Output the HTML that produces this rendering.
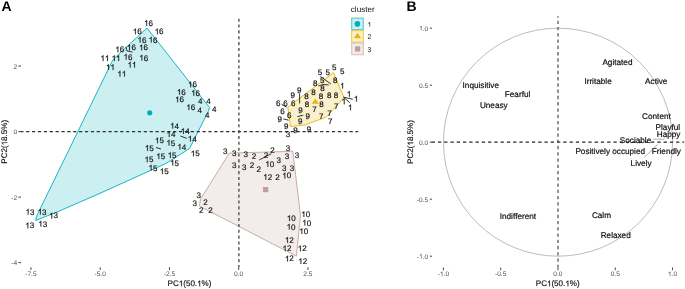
<!DOCTYPE html>
<html><head><meta charset="utf-8"><style>
html,body{margin:0;padding:0;background:#fff;overflow:hidden}
svg{display:block;will-change:transform;text-rendering:geometricPrecision;font-kerning:none;font-family:"Liberation Sans",sans-serif}
</style></head><body>
<svg width="685" height="289" viewBox="0 0 685 289">
<rect width="685" height="289" fill="#fff"/>
<polygon points="147,28 209.5,107.5 208.3,111.3 189.6,148.5 166.5,163.2 100,193.3 58,211.6 35.6,220.5 36.9,215.5 111.8,62 113.8,58.8" fill="#CCEFF1" stroke="#00AFBB" stroke-width="0.9" stroke-linejoin="round"/>
<polygon points="333.4,72.7 344,97.6 326.3,117.1 304.7,125 290.5,126.4 287.8,107.2" fill="#FAF1CC" stroke="#E7B800" stroke-width="0.9" stroke-linejoin="round"/>
<polygon points="229.3,153.1 292.8,151.3 300.5,215.5 296.4,256.1 199.4,206.1 200.5,199.2" fill="#F2ECEB" stroke="#BF9F9A" stroke-width="0.85" stroke-linejoin="round"/>
<line x1="21" y1="131.55" x2="358.2" y2="131.55" stroke="#303030" stroke-width="1.15" stroke-dasharray="3.2 2.68" stroke-dashoffset="0.74"/>
<line x1="238.9" y1="18.7" x2="238.9" y2="267.3" stroke="#404040" stroke-width="1.25" stroke-dasharray="3.1 2.765" stroke-dashoffset="0.1"/>
<line x1="30.95" y1="267.3" x2="30.95" y2="270.0" stroke="#333333" stroke-width="0.9"/>
<text x="30.95" y="276.20" font-size="6.6" text-anchor="middle" fill="#4D4D4D" >-7.5</text>
<line x1="100.20" y1="267.3" x2="100.20" y2="270.0" stroke="#333333" stroke-width="0.9"/>
<text x="100.20" y="276.20" font-size="6.6" text-anchor="middle" fill="#4D4D4D" >-5.0</text>
<line x1="169.45" y1="267.3" x2="169.45" y2="270.0" stroke="#333333" stroke-width="0.9"/>
<text x="169.45" y="276.20" font-size="6.6" text-anchor="middle" fill="#4D4D4D" >-2.5</text>
<line x1="238.70" y1="267.3" x2="238.70" y2="270.0" stroke="#333333" stroke-width="0.9"/>
<text x="238.70" y="276.20" font-size="6.6" text-anchor="middle" fill="#4D4D4D" >0.0</text>
<line x1="307.95" y1="267.3" x2="307.95" y2="270.0" stroke="#333333" stroke-width="0.9"/>
<text x="307.95" y="276.20" font-size="6.6" text-anchor="middle" fill="#4D4D4D" >2.5</text>
<line x1="18.3" y1="66.10" x2="21" y2="66.10" stroke="#333333" stroke-width="0.9"/>
<text x="17.10" y="68.50" font-size="6.6" text-anchor="end" fill="#4D4D4D" >2</text>
<line x1="18.3" y1="131.60" x2="21" y2="131.60" stroke="#333333" stroke-width="0.9"/>
<text x="17.10" y="134.00" font-size="6.6" text-anchor="end" fill="#4D4D4D" >0</text>
<line x1="18.3" y1="197.10" x2="21" y2="197.10" stroke="#333333" stroke-width="0.9"/>
<text x="17.10" y="199.50" font-size="6.6" text-anchor="end" fill="#4D4D4D" >-2</text>
<line x1="18.3" y1="262.60" x2="21" y2="262.60" stroke="#333333" stroke-width="0.9"/>
<text x="17.10" y="265.00" font-size="6.6" text-anchor="end" fill="#4D4D4D" >-4</text>
<text x="189.50" y="286.30" font-size="8.05" text-anchor="middle" fill="#111" stroke="#111" stroke-width="0.15">PC (50. %)</text><path d="M763 0H583V1147Q518 1085 412.5 1023Q307 961 223 930V1104Q374 1175 487 1276Q600 1377 647 1472H763Z" transform="translate(178.759,286.30) scale(0.003931,-0.003931)" fill="#111" stroke="#111" stroke-width="0.15" vector-effect="non-scaling-stroke"/><path d="M763 0H583V1147Q518 1085 412.5 1023Q307 961 223 930V1104Q374 1175 487 1276Q600 1377 647 1472H763Z" transform="translate(197.108,286.30) scale(0.003931,-0.003931)" fill="#111" stroke="#111" stroke-width="0.15" vector-effect="non-scaling-stroke"/>
<g transform="translate(7.3,141.8) rotate(-90)"><text x="0.00" y="0.00" font-size="8.05" text-anchor="middle" fill="#111" stroke="#111" stroke-width="0.15">PC2( 8.5%)</text><path d="M763 0H583V1147Q518 1085 412.5 1023Q307 961 223 930V1104Q374 1175 487 1276Q600 1377 647 1472H763Z" transform="translate(-3.583,0.00) scale(0.003931,-0.003931)" fill="#111" stroke="#111" stroke-width="0.15" vector-effect="non-scaling-stroke"/></g>
<polyline points="125.9,46.8 126.9,50.8 132.5,52.1" fill="none" stroke="#111" stroke-width="0.85"/>
<polyline points="180.4,136 186.7,138.4" fill="none" stroke="#111" stroke-width="0.85"/>
<polyline points="156,147.5 161,149" fill="none" stroke="#111" stroke-width="0.85"/>
<polyline points="320.5,76.5 330.9,84" fill="none" stroke="#111" stroke-width="0.85"/>
<polyline points="318.4,86 323,84.5 328.8,85" fill="none" stroke="#111" stroke-width="0.85"/>
<polyline points="299.6,93.5 299.6,103.4" fill="none" stroke="#111" stroke-width="0.85"/>
<polyline points="297.3,116.6 303.2,115.2" fill="none" stroke="#111" stroke-width="0.85"/>
<polyline points="283.3,118.9 288.6,120.2" fill="none" stroke="#111" stroke-width="0.85"/>
<polyline points="281.6,104.4 286.8,107.2" fill="none" stroke="#111" stroke-width="0.85"/>
<polyline points="343.5,97.2 352.8,99.2" fill="none" stroke="#111" stroke-width="0.85"/>
<polyline points="343.5,97.2 349.8,102.7" fill="none" stroke="#111" stroke-width="0.85"/>
<polyline points="259.3,159.9 271.4,153.7" fill="none" stroke="#111" stroke-width="0.85"/>
<text x="148.54" y="25.71" font-size="8.0" text-anchor="middle" fill="#111" stroke="#111" stroke-width="0.18"> 6</text><path d="M763 0H583V1147Q518 1085 412.5 1023Q307 961 223 930V1104Q374 1175 487 1276Q600 1377 647 1472H763Z" transform="translate(144.091,25.71) scale(0.003906,-0.003906)" fill="#111" stroke="#111" stroke-width="0.18" vector-effect="non-scaling-stroke"/>
<text x="137.24" y="34.31" font-size="8.0" text-anchor="middle" fill="#111" stroke="#111" stroke-width="0.18"> 6</text><path d="M763 0H583V1147Q518 1085 412.5 1023Q307 961 223 930V1104Q374 1175 487 1276Q600 1377 647 1472H763Z" transform="translate(132.791,34.31) scale(0.003906,-0.003906)" fill="#111" stroke="#111" stroke-width="0.18" vector-effect="non-scaling-stroke"/>
<text x="159.14" y="34.31" font-size="8.0" text-anchor="middle" fill="#111" stroke="#111" stroke-width="0.18"> 6</text><path d="M763 0H583V1147Q518 1085 412.5 1023Q307 961 223 930V1104Q374 1175 487 1276Q600 1377 647 1472H763Z" transform="translate(154.691,34.31) scale(0.003906,-0.003906)" fill="#111" stroke="#111" stroke-width="0.18" vector-effect="non-scaling-stroke"/>
<text x="141.94" y="42.61" font-size="8.0" text-anchor="middle" fill="#111" stroke="#111" stroke-width="0.18"> 6</text><path d="M763 0H583V1147Q518 1085 412.5 1023Q307 961 223 930V1104Q374 1175 487 1276Q600 1377 647 1472H763Z" transform="translate(137.491,42.61) scale(0.003906,-0.003906)" fill="#111" stroke="#111" stroke-width="0.18" vector-effect="non-scaling-stroke"/>
<text x="153.04" y="42.61" font-size="8.0" text-anchor="middle" fill="#111" stroke="#111" stroke-width="0.18"> 6</text><path d="M763 0H583V1147Q518 1085 412.5 1023Q307 961 223 930V1104Q374 1175 487 1276Q600 1377 647 1472H763Z" transform="translate(148.591,42.61) scale(0.003906,-0.003906)" fill="#111" stroke="#111" stroke-width="0.18" vector-effect="non-scaling-stroke"/>
<text x="119.74" y="52.21" font-size="8.0" text-anchor="middle" fill="#111" stroke="#111" stroke-width="0.18"> 6</text><path d="M763 0H583V1147Q518 1085 412.5 1023Q307 961 223 930V1104Q374 1175 487 1276Q600 1377 647 1472H763Z" transform="translate(115.291,52.21) scale(0.003906,-0.003906)" fill="#111" stroke="#111" stroke-width="0.18" vector-effect="non-scaling-stroke"/>
<text x="131.44" y="50.31" font-size="8.0" text-anchor="middle" fill="#111" stroke="#111" stroke-width="0.18"> 6</text><path d="M763 0H583V1147Q518 1085 412.5 1023Q307 961 223 930V1104Q374 1175 487 1276Q600 1377 647 1472H763Z" transform="translate(126.991,50.31) scale(0.003906,-0.003906)" fill="#111" stroke="#111" stroke-width="0.18" vector-effect="non-scaling-stroke"/>
<text x="143.54" y="50.31" font-size="8.0" text-anchor="middle" fill="#111" stroke="#111" stroke-width="0.18"> 6</text><path d="M763 0H583V1147Q518 1085 412.5 1023Q307 961 223 930V1104Q374 1175 487 1276Q600 1377 647 1472H763Z" transform="translate(139.091,50.31) scale(0.003906,-0.003906)" fill="#111" stroke="#111" stroke-width="0.18" vector-effect="non-scaling-stroke"/>
<text x="127.94" y="59.61" font-size="8.0" text-anchor="middle" fill="#111" stroke="#111" stroke-width="0.18"> 6</text><path d="M763 0H583V1147Q518 1085 412.5 1023Q307 961 223 930V1104Q374 1175 487 1276Q600 1377 647 1472H763Z" transform="translate(123.491,59.61) scale(0.003906,-0.003906)" fill="#111" stroke="#111" stroke-width="0.18" vector-effect="non-scaling-stroke"/>
<text x="143.74" y="60.51" font-size="8.0" text-anchor="middle" fill="#111" stroke="#111" stroke-width="0.18"> 6</text><path d="M763 0H583V1147Q518 1085 412.5 1023Q307 961 223 930V1104Q374 1175 487 1276Q600 1377 647 1472H763Z" transform="translate(139.291,60.51) scale(0.003906,-0.003906)" fill="#111" stroke="#111" stroke-width="0.18" vector-effect="non-scaling-stroke"/>
<text x="192.54" y="87.21" font-size="8.0" text-anchor="middle" fill="#111" stroke="#111" stroke-width="0.18"> 6</text><path d="M763 0H583V1147Q518 1085 412.5 1023Q307 961 223 930V1104Q374 1175 487 1276Q600 1377 647 1472H763Z" transform="translate(188.091,87.21) scale(0.003906,-0.003906)" fill="#111" stroke="#111" stroke-width="0.18" vector-effect="non-scaling-stroke"/>
<text x="181.34" y="94.81" font-size="8.0" text-anchor="middle" fill="#111" stroke="#111" stroke-width="0.18"> 6</text><path d="M763 0H583V1147Q518 1085 412.5 1023Q307 961 223 930V1104Q374 1175 487 1276Q600 1377 647 1472H763Z" transform="translate(176.891,94.81) scale(0.003906,-0.003906)" fill="#111" stroke="#111" stroke-width="0.18" vector-effect="non-scaling-stroke"/>
<text x="195.64" y="95.81" font-size="8.0" text-anchor="middle" fill="#111" stroke="#111" stroke-width="0.18"> 6</text><path d="M763 0H583V1147Q518 1085 412.5 1023Q307 961 223 930V1104Q374 1175 487 1276Q600 1377 647 1472H763Z" transform="translate(191.191,95.81) scale(0.003906,-0.003906)" fill="#111" stroke="#111" stroke-width="0.18" vector-effect="non-scaling-stroke"/>
<text x="179.54" y="102.31" font-size="8.0" text-anchor="middle" fill="#111" stroke="#111" stroke-width="0.18"> 6</text><path d="M763 0H583V1147Q518 1085 412.5 1023Q307 961 223 930V1104Q374 1175 487 1276Q600 1377 647 1472H763Z" transform="translate(175.091,102.31) scale(0.003906,-0.003906)" fill="#111" stroke="#111" stroke-width="0.18" vector-effect="non-scaling-stroke"/>
<text x="190.74" y="110.11" font-size="8.0" text-anchor="middle" fill="#111" stroke="#111" stroke-width="0.18"> 6</text><path d="M763 0H583V1147Q518 1085 412.5 1023Q307 961 223 930V1104Q374 1175 487 1276Q600 1377 647 1472H763Z" transform="translate(186.291,110.11) scale(0.003906,-0.003906)" fill="#111" stroke="#111" stroke-width="0.18" vector-effect="non-scaling-stroke"/>
<text x="104.90" y="61.01" font-size="8.0" text-anchor="middle" fill="#111" stroke="#111" stroke-width="0.18">  </text><path d="M763 0H583V1147Q518 1085 412.5 1023Q307 961 223 930V1104Q374 1175 487 1276Q600 1377 647 1472H763Z" transform="translate(100.450,61.01) scale(0.003906,-0.003906)" fill="#111" stroke="#111" stroke-width="0.18" vector-effect="non-scaling-stroke"/><path d="M763 0H583V1147Q518 1085 412.5 1023Q307 961 223 930V1104Q374 1175 487 1276Q600 1377 647 1472H763Z" transform="translate(104.899,61.01) scale(0.003906,-0.003906)" fill="#111" stroke="#111" stroke-width="0.18" vector-effect="non-scaling-stroke"/>
<text x="116.10" y="61.01" font-size="8.0" text-anchor="middle" fill="#111" stroke="#111" stroke-width="0.18">  </text><path d="M763 0H583V1147Q518 1085 412.5 1023Q307 961 223 930V1104Q374 1175 487 1276Q600 1377 647 1472H763Z" transform="translate(111.650,61.01) scale(0.003906,-0.003906)" fill="#111" stroke="#111" stroke-width="0.18" vector-effect="non-scaling-stroke"/><path d="M763 0H583V1147Q518 1085 412.5 1023Q307 961 223 930V1104Q374 1175 487 1276Q600 1377 647 1472H763Z" transform="translate(116.099,61.01) scale(0.003906,-0.003906)" fill="#111" stroke="#111" stroke-width="0.18" vector-effect="non-scaling-stroke"/>
<text x="110.40" y="69.91" font-size="8.0" text-anchor="middle" fill="#111" stroke="#111" stroke-width="0.18">  </text><path d="M763 0H583V1147Q518 1085 412.5 1023Q307 961 223 930V1104Q374 1175 487 1276Q600 1377 647 1472H763Z" transform="translate(105.950,69.91) scale(0.003906,-0.003906)" fill="#111" stroke="#111" stroke-width="0.18" vector-effect="non-scaling-stroke"/><path d="M763 0H583V1147Q518 1085 412.5 1023Q307 961 223 930V1104Q374 1175 487 1276Q600 1377 647 1472H763Z" transform="translate(110.399,69.91) scale(0.003906,-0.003906)" fill="#111" stroke="#111" stroke-width="0.18" vector-effect="non-scaling-stroke"/>
<text x="132.00" y="67.61" font-size="8.0" text-anchor="middle" fill="#111" stroke="#111" stroke-width="0.18">  </text><path d="M763 0H583V1147Q518 1085 412.5 1023Q307 961 223 930V1104Q374 1175 487 1276Q600 1377 647 1472H763Z" transform="translate(127.550,67.61) scale(0.003906,-0.003906)" fill="#111" stroke="#111" stroke-width="0.18" vector-effect="non-scaling-stroke"/><path d="M763 0H583V1147Q518 1085 412.5 1023Q307 961 223 930V1104Q374 1175 487 1276Q600 1377 647 1472H763Z" transform="translate(131.999,67.61) scale(0.003906,-0.003906)" fill="#111" stroke="#111" stroke-width="0.18" vector-effect="non-scaling-stroke"/>
<text x="121.80" y="76.61" font-size="8.0" text-anchor="middle" fill="#111" stroke="#111" stroke-width="0.18">  </text><path d="M763 0H583V1147Q518 1085 412.5 1023Q307 961 223 930V1104Q374 1175 487 1276Q600 1377 647 1472H763Z" transform="translate(117.350,76.61) scale(0.003906,-0.003906)" fill="#111" stroke="#111" stroke-width="0.18" vector-effect="non-scaling-stroke"/><path d="M763 0H583V1147Q518 1085 412.5 1023Q307 961 223 930V1104Q374 1175 487 1276Q600 1377 647 1472H763Z" transform="translate(121.799,76.61) scale(0.003906,-0.003906)" fill="#111" stroke="#111" stroke-width="0.18" vector-effect="non-scaling-stroke"/>
<text x="200.33" y="104.21" font-size="8.0" text-anchor="middle" fill="#111" stroke="#111" stroke-width="0.18">4</text>
<text x="208.53" y="103.71" font-size="8.0" text-anchor="middle" fill="#111" stroke="#111" stroke-width="0.18">4</text>
<text x="199.83" y="112.71" font-size="8.0" text-anchor="middle" fill="#111" stroke="#111" stroke-width="0.18">4</text>
<text x="214.13" y="111.71" font-size="8.0" text-anchor="middle" fill="#111" stroke="#111" stroke-width="0.18">4</text>
<text x="207.23" y="118.01" font-size="8.0" text-anchor="middle" fill="#111" stroke="#111" stroke-width="0.18">4</text>
<text x="174.58" y="128.61" font-size="8.0" text-anchor="middle" fill="#111" stroke="#111" stroke-width="0.18"> 4</text><path d="M763 0H583V1147Q518 1085 412.5 1023Q307 961 223 930V1104Q374 1175 487 1276Q600 1377 647 1472H763Z" transform="translate(170.132,128.61) scale(0.003906,-0.003906)" fill="#111" stroke="#111" stroke-width="0.18" vector-effect="non-scaling-stroke"/>
<text x="185.18" y="134.01" font-size="8.0" text-anchor="middle" fill="#111" stroke="#111" stroke-width="0.18"> 4</text><path d="M763 0H583V1147Q518 1085 412.5 1023Q307 961 223 930V1104Q374 1175 487 1276Q600 1377 647 1472H763Z" transform="translate(180.732,134.01) scale(0.003906,-0.003906)" fill="#111" stroke="#111" stroke-width="0.18" vector-effect="non-scaling-stroke"/>
<text x="170.98" y="137.01" font-size="8.0" text-anchor="middle" fill="#111" stroke="#111" stroke-width="0.18"> 4</text><path d="M763 0H583V1147Q518 1085 412.5 1023Q307 961 223 930V1104Q374 1175 487 1276Q600 1377 647 1472H763Z" transform="translate(166.532,137.01) scale(0.003906,-0.003906)" fill="#111" stroke="#111" stroke-width="0.18" vector-effect="non-scaling-stroke"/>
<text x="192.18" y="141.51" font-size="8.0" text-anchor="middle" fill="#111" stroke="#111" stroke-width="0.18"> 4</text><path d="M763 0H583V1147Q518 1085 412.5 1023Q307 961 223 930V1104Q374 1175 487 1276Q600 1377 647 1472H763Z" transform="translate(187.732,141.51) scale(0.003906,-0.003906)" fill="#111" stroke="#111" stroke-width="0.18" vector-effect="non-scaling-stroke"/>
<text x="181.78" y="149.61" font-size="8.0" text-anchor="middle" fill="#111" stroke="#111" stroke-width="0.18"> 4</text><path d="M763 0H583V1147Q518 1085 412.5 1023Q307 961 223 930V1104Q374 1175 487 1276Q600 1377 647 1472H763Z" transform="translate(177.332,149.61) scale(0.003906,-0.003906)" fill="#111" stroke="#111" stroke-width="0.18" vector-effect="non-scaling-stroke"/>
<text x="159.43" y="143.31" font-size="8.0" text-anchor="middle" fill="#111" stroke="#111" stroke-width="0.18"> 5</text><path d="M763 0H583V1147Q518 1085 412.5 1023Q307 961 223 930V1104Q374 1175 487 1276Q600 1377 647 1472H763Z" transform="translate(154.983,143.31) scale(0.003906,-0.003906)" fill="#111" stroke="#111" stroke-width="0.18" vector-effect="non-scaling-stroke"/>
<text x="170.83" y="145.51" font-size="8.0" text-anchor="middle" fill="#111" stroke="#111" stroke-width="0.18"> 5</text><path d="M763 0H583V1147Q518 1085 412.5 1023Q307 961 223 930V1104Q374 1175 487 1276Q600 1377 647 1472H763Z" transform="translate(166.383,145.51) scale(0.003906,-0.003906)" fill="#111" stroke="#111" stroke-width="0.18" vector-effect="non-scaling-stroke"/>
<text x="149.33" y="150.81" font-size="8.0" text-anchor="middle" fill="#111" stroke="#111" stroke-width="0.18"> 5</text><path d="M763 0H583V1147Q518 1085 412.5 1023Q307 961 223 930V1104Q374 1175 487 1276Q600 1377 647 1472H763Z" transform="translate(144.883,150.81) scale(0.003906,-0.003906)" fill="#111" stroke="#111" stroke-width="0.18" vector-effect="non-scaling-stroke"/>
<text x="160.73" y="159.01" font-size="8.0" text-anchor="middle" fill="#111" stroke="#111" stroke-width="0.18"> 5</text><path d="M763 0H583V1147Q518 1085 412.5 1023Q307 961 223 930V1104Q374 1175 487 1276Q600 1377 647 1472H763Z" transform="translate(156.283,159.01) scale(0.003906,-0.003906)" fill="#111" stroke="#111" stroke-width="0.18" vector-effect="non-scaling-stroke"/>
<text x="172.13" y="157.91" font-size="8.0" text-anchor="middle" fill="#111" stroke="#111" stroke-width="0.18"> 5</text><path d="M763 0H583V1147Q518 1085 412.5 1023Q307 961 223 930V1104Q374 1175 487 1276Q600 1377 647 1472H763Z" transform="translate(167.683,157.91) scale(0.003906,-0.003906)" fill="#111" stroke="#111" stroke-width="0.18" vector-effect="non-scaling-stroke"/>
<text x="149.03" y="162.31" font-size="8.0" text-anchor="middle" fill="#111" stroke="#111" stroke-width="0.18"> 5</text><path d="M763 0H583V1147Q518 1085 412.5 1023Q307 961 223 930V1104Q374 1175 487 1276Q600 1377 647 1472H763Z" transform="translate(144.583,162.31) scale(0.003906,-0.003906)" fill="#111" stroke="#111" stroke-width="0.18" vector-effect="non-scaling-stroke"/>
<text x="174.63" y="165.61" font-size="8.0" text-anchor="middle" fill="#111" stroke="#111" stroke-width="0.18"> 5</text><path d="M763 0H583V1147Q518 1085 412.5 1023Q307 961 223 930V1104Q374 1175 487 1276Q600 1377 647 1472H763Z" transform="translate(170.183,165.61) scale(0.003906,-0.003906)" fill="#111" stroke="#111" stroke-width="0.18" vector-effect="non-scaling-stroke"/>
<text x="152.93" y="170.51" font-size="8.0" text-anchor="middle" fill="#111" stroke="#111" stroke-width="0.18"> 5</text><path d="M763 0H583V1147Q518 1085 412.5 1023Q307 961 223 930V1104Q374 1175 487 1276Q600 1377 647 1472H763Z" transform="translate(148.483,170.51) scale(0.003906,-0.003906)" fill="#111" stroke="#111" stroke-width="0.18" vector-effect="non-scaling-stroke"/>
<text x="164.23" y="174.11" font-size="8.0" text-anchor="middle" fill="#111" stroke="#111" stroke-width="0.18"> 5</text><path d="M763 0H583V1147Q518 1085 412.5 1023Q307 961 223 930V1104Q374 1175 487 1276Q600 1377 647 1472H763Z" transform="translate(159.783,174.11) scale(0.003906,-0.003906)" fill="#111" stroke="#111" stroke-width="0.18" vector-effect="non-scaling-stroke"/>
<text x="195.23" y="156.31" font-size="8.0" text-anchor="middle" fill="#111" stroke="#111" stroke-width="0.18"> 5</text><path d="M763 0H583V1147Q518 1085 412.5 1023Q307 961 223 930V1104Q374 1175 487 1276Q600 1377 647 1472H763Z" transform="translate(190.783,156.31) scale(0.003906,-0.003906)" fill="#111" stroke="#111" stroke-width="0.18" vector-effect="non-scaling-stroke"/>
<text x="29.94" y="214.61" font-size="8.0" text-anchor="middle" fill="#111" stroke="#111" stroke-width="0.18"> 3</text><path d="M763 0H583V1147Q518 1085 412.5 1023Q307 961 223 930V1104Q374 1175 487 1276Q600 1377 647 1472H763Z" transform="translate(25.491,214.61) scale(0.003906,-0.003906)" fill="#111" stroke="#111" stroke-width="0.18" vector-effect="non-scaling-stroke"/>
<text x="42.14" y="214.61" font-size="8.0" text-anchor="middle" fill="#111" stroke="#111" stroke-width="0.18"> 3</text><path d="M763 0H583V1147Q518 1085 412.5 1023Q307 961 223 930V1104Q374 1175 487 1276Q600 1377 647 1472H763Z" transform="translate(37.691,214.61) scale(0.003906,-0.003906)" fill="#111" stroke="#111" stroke-width="0.18" vector-effect="non-scaling-stroke"/>
<text x="53.64" y="218.41" font-size="8.0" text-anchor="middle" fill="#111" stroke="#111" stroke-width="0.18"> 3</text><path d="M763 0H583V1147Q518 1085 412.5 1023Q307 961 223 930V1104Q374 1175 487 1276Q600 1377 647 1472H763Z" transform="translate(49.191,218.41) scale(0.003906,-0.003906)" fill="#111" stroke="#111" stroke-width="0.18" vector-effect="non-scaling-stroke"/>
<text x="29.74" y="228.31" font-size="8.0" text-anchor="middle" fill="#111" stroke="#111" stroke-width="0.18"> 3</text><path d="M763 0H583V1147Q518 1085 412.5 1023Q307 961 223 930V1104Q374 1175 487 1276Q600 1377 647 1472H763Z" transform="translate(25.291,228.31) scale(0.003906,-0.003906)" fill="#111" stroke="#111" stroke-width="0.18" vector-effect="non-scaling-stroke"/>
<text x="42.74" y="226.61" font-size="8.0" text-anchor="middle" fill="#111" stroke="#111" stroke-width="0.18"> 3</text><path d="M763 0H583V1147Q518 1085 412.5 1023Q307 961 223 930V1104Q374 1175 487 1276Q600 1377 647 1472H763Z" transform="translate(38.291,226.61) scale(0.003906,-0.003906)" fill="#111" stroke="#111" stroke-width="0.18" vector-effect="non-scaling-stroke"/>
<text x="334.11" y="69.51" font-size="8.0" text-anchor="middle" fill="#111" stroke="#111" stroke-width="0.18">5</text>
<text x="342.21" y="74.31" font-size="8.0" text-anchor="middle" fill="#111" stroke="#111" stroke-width="0.18">5</text>
<text x="320.01" y="75.01" font-size="8.0" text-anchor="middle" fill="#111" stroke="#111" stroke-width="0.18">5</text>
<text x="327.61" y="75.01" font-size="8.0" text-anchor="middle" fill="#111" stroke="#111" stroke-width="0.18">5</text>
<text x="322.31" y="82.71" font-size="8.0" text-anchor="middle" fill="#111" stroke="#111" stroke-width="0.18">5</text>
<text x="335.20" y="82.71" font-size="8.0" text-anchor="middle" fill="#111" stroke="#111" stroke-width="0.18">8</text>
<text x="315.30" y="86.31" font-size="8.0" text-anchor="middle" fill="#111" stroke="#111" stroke-width="0.18">8</text>
<text x="322.40" y="90.51" font-size="8.0" text-anchor="middle" fill="#111" stroke="#111" stroke-width="0.18">8</text>
<text x="313.40" y="94.61" font-size="8.0" text-anchor="middle" fill="#111" stroke="#111" stroke-width="0.18">8</text>
<text x="306.40" y="99.31" font-size="8.0" text-anchor="middle" fill="#111" stroke="#111" stroke-width="0.18">8</text>
<text x="321.00" y="99.31" font-size="8.0" text-anchor="middle" fill="#111" stroke="#111" stroke-width="0.18">8</text>
<text x="329.30" y="98.31" font-size="8.0" text-anchor="middle" fill="#111" stroke="#111" stroke-width="0.18">8</text>
<text x="336.10" y="98.31" font-size="8.0" text-anchor="middle" fill="#111" stroke="#111" stroke-width="0.18">8</text>
<text x="307.00" y="106.71" font-size="8.0" text-anchor="middle" fill="#111" stroke="#111" stroke-width="0.18">8</text>
<text x="321.50" y="107.21" font-size="8.0" text-anchor="middle" fill="#111" stroke="#111" stroke-width="0.18">8</text>
<text x="342.30" y="88.61" font-size="8.0" text-anchor="middle" fill="#111" stroke="#111" stroke-width="0.18"> </text><path d="M763 0H583V1147Q518 1085 412.5 1023Q307 961 223 930V1104Q374 1175 487 1276Q600 1377 647 1472H763Z" transform="translate(340.074,88.61) scale(0.003906,-0.003906)" fill="#111" stroke="#111" stroke-width="0.18" vector-effect="non-scaling-stroke"/>
<text x="348.90" y="96.81" font-size="8.0" text-anchor="middle" fill="#111" stroke="#111" stroke-width="0.18"> </text><path d="M763 0H583V1147Q518 1085 412.5 1023Q307 961 223 930V1104Q374 1175 487 1276Q600 1377 647 1472H763Z" transform="translate(346.674,96.81) scale(0.003906,-0.003906)" fill="#111" stroke="#111" stroke-width="0.18" vector-effect="non-scaling-stroke"/>
<text x="356.10" y="101.61" font-size="8.0" text-anchor="middle" fill="#111" stroke="#111" stroke-width="0.18"> </text><path d="M763 0H583V1147Q518 1085 412.5 1023Q307 961 223 930V1104Q374 1175 487 1276Q600 1377 647 1472H763Z" transform="translate(353.874,101.61) scale(0.003906,-0.003906)" fill="#111" stroke="#111" stroke-width="0.18" vector-effect="non-scaling-stroke"/>
<text x="343.80" y="104.31" font-size="8.0" text-anchor="middle" fill="#111" stroke="#111" stroke-width="0.18"> </text><path d="M763 0H583V1147Q518 1085 412.5 1023Q307 961 223 930V1104Q374 1175 487 1276Q600 1377 647 1472H763Z" transform="translate(341.574,104.31) scale(0.003906,-0.003906)" fill="#111" stroke="#111" stroke-width="0.18" vector-effect="non-scaling-stroke"/>
<text x="350.20" y="110.21" font-size="8.0" text-anchor="middle" fill="#111" stroke="#111" stroke-width="0.18"> </text><path d="M763 0H583V1147Q518 1085 412.5 1023Q307 961 223 930V1104Q374 1175 487 1276Q600 1377 647 1472H763Z" transform="translate(347.974,110.21) scale(0.003906,-0.003906)" fill="#111" stroke="#111" stroke-width="0.18" vector-effect="non-scaling-stroke"/>
<text x="299.20" y="92.91" font-size="8.0" text-anchor="middle" fill="#111" stroke="#111" stroke-width="0.18">9</text>
<text x="292.80" y="98.41" font-size="8.0" text-anchor="middle" fill="#111" stroke="#111" stroke-width="0.18">9</text>
<text x="300.60" y="113.31" font-size="8.0" text-anchor="middle" fill="#111" stroke="#111" stroke-width="0.18">9</text>
<text x="307.70" y="118.71" font-size="8.0" text-anchor="middle" fill="#111" stroke="#111" stroke-width="0.18">9</text>
<text x="279.80" y="122.41" font-size="8.0" text-anchor="middle" fill="#111" stroke="#111" stroke-width="0.18">9</text>
<text x="300.20" y="123.91" font-size="8.0" text-anchor="middle" fill="#111" stroke="#111" stroke-width="0.18">9</text>
<text x="286.30" y="129.31" font-size="8.0" text-anchor="middle" fill="#111" stroke="#111" stroke-width="0.18">9</text>
<text x="295.60" y="133.31" font-size="8.0" text-anchor="middle" fill="#111" stroke="#111" stroke-width="0.18">9</text>
<text x="309.10" y="132.21" font-size="8.0" text-anchor="middle" fill="#111" stroke="#111" stroke-width="0.18">9</text>
<text x="278.27" y="105.71" font-size="8.0" text-anchor="middle" fill="#111" stroke="#111" stroke-width="0.18">6</text>
<text x="285.37" y="105.71" font-size="8.0" text-anchor="middle" fill="#111" stroke="#111" stroke-width="0.18">6</text>
<text x="293.17" y="106.31" font-size="8.0" text-anchor="middle" fill="#111" stroke="#111" stroke-width="0.18">6</text>
<text x="282.57" y="113.91" font-size="8.0" text-anchor="middle" fill="#111" stroke="#111" stroke-width="0.18">6</text>
<text x="289.27" y="118.31" font-size="8.0" text-anchor="middle" fill="#111" stroke="#111" stroke-width="0.18">6</text>
<text x="314.60" y="111.61" font-size="8.0" text-anchor="middle" fill="#111" stroke="#111" stroke-width="0.18">7</text>
<text x="321.20" y="119.21" font-size="8.0" text-anchor="middle" fill="#111" stroke="#111" stroke-width="0.18">7</text>
<text x="329.50" y="115.81" font-size="8.0" text-anchor="middle" fill="#111" stroke="#111" stroke-width="0.18">7</text>
<text x="336.20" y="108.81" font-size="8.0" text-anchor="middle" fill="#111" stroke="#111" stroke-width="0.18">7</text>
<text x="330.20" y="123.51" font-size="8.0" text-anchor="middle" fill="#111" stroke="#111" stroke-width="0.18">7</text>
<text x="225.22" y="153.61" font-size="8.0" text-anchor="middle" fill="#111" stroke="#111" stroke-width="0.18">3</text>
<text x="234.12" y="155.91" font-size="8.0" text-anchor="middle" fill="#111" stroke="#111" stroke-width="0.18">3</text>
<text x="245.82" y="157.21" font-size="8.0" text-anchor="middle" fill="#111" stroke="#111" stroke-width="0.18">3</text>
<text x="288.02" y="150.51" font-size="8.0" text-anchor="middle" fill="#111" stroke="#111" stroke-width="0.18">3</text>
<text x="286.92" y="158.61" font-size="8.0" text-anchor="middle" fill="#111" stroke="#111" stroke-width="0.18">3</text>
<text x="296.92" y="157.61" font-size="8.0" text-anchor="middle" fill="#111" stroke="#111" stroke-width="0.18">3</text>
<text x="278.82" y="162.51" font-size="8.0" text-anchor="middle" fill="#111" stroke="#111" stroke-width="0.18">3</text>
<text x="234.12" y="167.81" font-size="8.0" text-anchor="middle" fill="#111" stroke="#111" stroke-width="0.18">3</text>
<text x="244.22" y="169.51" font-size="8.0" text-anchor="middle" fill="#111" stroke="#111" stroke-width="0.18">3</text>
<text x="284.12" y="170.51" font-size="8.0" text-anchor="middle" fill="#111" stroke="#111" stroke-width="0.18">3</text>
<text x="292.02" y="170.51" font-size="8.0" text-anchor="middle" fill="#111" stroke="#111" stroke-width="0.18">3</text>
<text x="198.82" y="198.01" font-size="8.0" text-anchor="middle" fill="#111" stroke="#111" stroke-width="0.18">3</text>
<text x="194.72" y="206.31" font-size="8.0" text-anchor="middle" fill="#111" stroke="#111" stroke-width="0.18">3</text>
<text x="288.02" y="137.11" font-size="8.0" text-anchor="middle" fill="#111" stroke="#111" stroke-width="0.18">3</text>
<text x="253.90" y="159.41" font-size="8.0" text-anchor="middle" fill="#111" stroke="#111" stroke-width="0.18">2</text>
<text x="266.10" y="157.71" font-size="8.0" text-anchor="middle" fill="#111" stroke="#111" stroke-width="0.18">2</text>
<text x="272.50" y="152.51" font-size="8.0" text-anchor="middle" fill="#111" stroke="#111" stroke-width="0.18">2</text>
<text x="252.00" y="167.91" font-size="8.0" text-anchor="middle" fill="#111" stroke="#111" stroke-width="0.18">2</text>
<text x="258.80" y="172.31" font-size="8.0" text-anchor="middle" fill="#111" stroke="#111" stroke-width="0.18">2</text>
<text x="277.40" y="179.71" font-size="8.0" text-anchor="middle" fill="#111" stroke="#111" stroke-width="0.18">2</text>
<text x="205.50" y="205.41" font-size="8.0" text-anchor="middle" fill="#111" stroke="#111" stroke-width="0.18">2</text>
<text x="201.30" y="213.31" font-size="8.0" text-anchor="middle" fill="#111" stroke="#111" stroke-width="0.18">2</text>
<text x="210.60" y="213.31" font-size="8.0" text-anchor="middle" fill="#111" stroke="#111" stroke-width="0.18">2</text>
<text x="269.72" y="166.71" font-size="8.0" text-anchor="middle" fill="#111" stroke="#111" stroke-width="0.18"> 0</text><path d="M763 0H583V1147Q518 1085 412.5 1023Q307 961 223 930V1104Q374 1175 487 1276Q600 1377 647 1472H763Z" transform="translate(265.271,166.71) scale(0.003906,-0.003906)" fill="#111" stroke="#111" stroke-width="0.18" vector-effect="non-scaling-stroke"/>
<text x="286.72" y="178.41" font-size="8.0" text-anchor="middle" fill="#111" stroke="#111" stroke-width="0.18"> 0</text><path d="M763 0H583V1147Q518 1085 412.5 1023Q307 961 223 930V1104Q374 1175 487 1276Q600 1377 647 1472H763Z" transform="translate(282.271,178.41) scale(0.003906,-0.003906)" fill="#111" stroke="#111" stroke-width="0.18" vector-effect="non-scaling-stroke"/>
<text x="305.72" y="216.91" font-size="8.0" text-anchor="middle" fill="#111" stroke="#111" stroke-width="0.18"> 0</text><path d="M763 0H583V1147Q518 1085 412.5 1023Q307 961 223 930V1104Q374 1175 487 1276Q600 1377 647 1472H763Z" transform="translate(301.271,216.91) scale(0.003906,-0.003906)" fill="#111" stroke="#111" stroke-width="0.18" vector-effect="non-scaling-stroke"/>
<text x="291.32" y="220.91" font-size="8.0" text-anchor="middle" fill="#111" stroke="#111" stroke-width="0.18"> 0</text><path d="M763 0H583V1147Q518 1085 412.5 1023Q307 961 223 930V1104Q374 1175 487 1276Q600 1377 647 1472H763Z" transform="translate(286.871,220.91) scale(0.003906,-0.003906)" fill="#111" stroke="#111" stroke-width="0.18" vector-effect="non-scaling-stroke"/>
<text x="306.72" y="225.51" font-size="8.0" text-anchor="middle" fill="#111" stroke="#111" stroke-width="0.18"> 0</text><path d="M763 0H583V1147Q518 1085 412.5 1023Q307 961 223 930V1104Q374 1175 487 1276Q600 1377 647 1472H763Z" transform="translate(302.271,225.51) scale(0.003906,-0.003906)" fill="#111" stroke="#111" stroke-width="0.18" vector-effect="non-scaling-stroke"/>
<text x="291.02" y="229.51" font-size="8.0" text-anchor="middle" fill="#111" stroke="#111" stroke-width="0.18"> 0</text><path d="M763 0H583V1147Q518 1085 412.5 1023Q307 961 223 930V1104Q374 1175 487 1276Q600 1377 647 1472H763Z" transform="translate(286.571,229.51) scale(0.003906,-0.003906)" fill="#111" stroke="#111" stroke-width="0.18" vector-effect="non-scaling-stroke"/>
<text x="303.72" y="233.91" font-size="8.0" text-anchor="middle" fill="#111" stroke="#111" stroke-width="0.18"> 0</text><path d="M763 0H583V1147Q518 1085 412.5 1023Q307 961 223 930V1104Q374 1175 487 1276Q600 1377 647 1472H763Z" transform="translate(299.271,233.91) scale(0.003906,-0.003906)" fill="#111" stroke="#111" stroke-width="0.18" vector-effect="non-scaling-stroke"/>
<text x="267.67" y="179.71" font-size="8.0" text-anchor="middle" fill="#111" stroke="#111" stroke-width="0.18"> 2</text><path d="M763 0H583V1147Q518 1085 412.5 1023Q307 961 223 930V1104Q374 1175 487 1276Q600 1377 647 1472H763Z" transform="translate(263.216,179.71) scale(0.003906,-0.003906)" fill="#111" stroke="#111" stroke-width="0.18" vector-effect="non-scaling-stroke"/>
<text x="289.37" y="242.81" font-size="8.0" text-anchor="middle" fill="#111" stroke="#111" stroke-width="0.18"> 2</text><path d="M763 0H583V1147Q518 1085 412.5 1023Q307 961 223 930V1104Q374 1175 487 1276Q600 1377 647 1472H763Z" transform="translate(284.916,242.81) scale(0.003906,-0.003906)" fill="#111" stroke="#111" stroke-width="0.18" vector-effect="non-scaling-stroke"/>
<text x="286.97" y="251.21" font-size="8.0" text-anchor="middle" fill="#111" stroke="#111" stroke-width="0.18"> 2</text><path d="M763 0H583V1147Q518 1085 412.5 1023Q307 961 223 930V1104Q374 1175 487 1276Q600 1377 647 1472H763Z" transform="translate(282.516,251.21) scale(0.003906,-0.003906)" fill="#111" stroke="#111" stroke-width="0.18" vector-effect="non-scaling-stroke"/>
<text x="302.17" y="251.21" font-size="8.0" text-anchor="middle" fill="#111" stroke="#111" stroke-width="0.18"> 2</text><path d="M763 0H583V1147Q518 1085 412.5 1023Q307 961 223 930V1104Q374 1175 487 1276Q600 1377 647 1472H763Z" transform="translate(297.716,251.21) scale(0.003906,-0.003906)" fill="#111" stroke="#111" stroke-width="0.18" vector-effect="non-scaling-stroke"/>
<text x="289.37" y="261.41" font-size="8.0" text-anchor="middle" fill="#111" stroke="#111" stroke-width="0.18"> 2</text><path d="M763 0H583V1147Q518 1085 412.5 1023Q307 961 223 930V1104Q374 1175 487 1276Q600 1377 647 1472H763Z" transform="translate(284.916,261.41) scale(0.003906,-0.003906)" fill="#111" stroke="#111" stroke-width="0.18" vector-effect="non-scaling-stroke"/>
<text x="302.77" y="264.01" font-size="8.0" text-anchor="middle" fill="#111" stroke="#111" stroke-width="0.18"> 2</text><path d="M763 0H583V1147Q518 1085 412.5 1023Q307 961 223 930V1104Q374 1175 487 1276Q600 1377 647 1472H763Z" transform="translate(298.316,264.01) scale(0.003906,-0.003906)" fill="#111" stroke="#111" stroke-width="0.18" vector-effect="non-scaling-stroke"/>
<circle cx="149.7" cy="112.8" r="2.6" fill="#00AFBB"/>
<polygon points="315.3,98.4 311.8,103.8 318.8,103.8" fill="#E7B800"/>
<rect x="263" y="187" width="5.2" height="5.2" fill="#BF9F9A"/>
<text x="350.80" y="12.40" font-size="8.1" text-anchor="start" fill="#111" >cluster</text>
<rect x="351.7" y="18.15" width="11.6" height="11.5" fill="#CCEFF1" stroke="#5CC9D2" stroke-width="1.15"/>
<circle cx="357.4" cy="23.90" r="2.8" fill="#00AFBB"/>
<text x="367.60" y="26.80" font-size="6.8" text-anchor="start" fill="#111" > </text><path d="M763 0H583V1147Q518 1085 412.5 1023Q307 961 223 930V1104Q374 1175 487 1276Q600 1377 647 1472H763Z" transform="translate(367.600,26.80) scale(0.003320,-0.003320)" fill="#111"/>
<rect x="351.7" y="30.65" width="11.6" height="11.5" fill="#FAF1CC" stroke="#EFCB4C" stroke-width="1.15"/>
<polygon points="357.5,32.65 353.8,38.30 361.2,38.30" fill="#E7B800"/>
<text x="367.60" y="39.30" font-size="6.8" text-anchor="start" fill="#111" >2</text>
<rect x="351.7" y="43.15" width="11.6" height="11.5" fill="#F2ECEB" stroke="#D9C3C0" stroke-width="1.15"/>
<rect x="355" y="46.30" width="5.2" height="5.2" fill="#BF9F9A"/>
<text x="367.60" y="51.80" font-size="6.8" text-anchor="start" fill="#111" >3</text>
<text x="1.50" y="10.90" font-size="14" text-anchor="start" fill="#000" font-weight="bold">A</text>
<text x="406.40" y="11.10" font-size="14" text-anchor="start" fill="#000" font-weight="bold">B</text>
<ellipse cx="558.0" cy="142.2" rx="114.55" ry="114.0" fill="none" stroke="#B0B0B0" stroke-width="0.85"/>
<line x1="430" y1="142.15" x2="684.2" y2="142.15" stroke="#262626" stroke-width="1.15" stroke-dasharray="3.3 2.969" stroke-dashoffset="4.639"/>
<line x1="558.0" y1="16.3" x2="558.0" y2="267.5" stroke="#4a4a4a" stroke-width="1.2" stroke-dasharray="3.3 2.956" stroke-dashoffset="1.76"/>
<line x1="443.40" y1="267.5" x2="443.40" y2="270.2" stroke="#333333" stroke-width="0.9"/>
<text x="443.40" y="276.20" font-size="6.6" text-anchor="middle" fill="#4D4D4D" >- .0</text><path d="M763 0H583V1147Q518 1085 412.5 1023Q307 961 223 930V1104Q374 1175 487 1276Q600 1377 647 1472H763Z" transform="translate(439.911,276.20) scale(0.003223,-0.003223)" fill="#4D4D4D"/>
<line x1="429.8" y1="256.20" x2="432" y2="256.20" stroke="#333333" stroke-width="0.9"/>
<text x="428.20" y="258.60" font-size="6.6" text-anchor="end" fill="#4D4D4D" >- .0</text><path d="M763 0H583V1147Q518 1085 412.5 1023Q307 961 223 930V1104Q374 1175 487 1276Q600 1377 647 1472H763Z" transform="translate(419.025,258.60) scale(0.003223,-0.003223)" fill="#4D4D4D"/>
<line x1="500.68" y1="267.5" x2="500.68" y2="270.2" stroke="#333333" stroke-width="0.9"/>
<text x="500.68" y="276.20" font-size="6.6" text-anchor="middle" fill="#4D4D4D" >-0.5</text>
<line x1="429.8" y1="199.20" x2="432" y2="199.20" stroke="#333333" stroke-width="0.9"/>
<text x="428.20" y="201.60" font-size="6.6" text-anchor="end" fill="#4D4D4D" >-0.5</text>
<line x1="557.95" y1="267.5" x2="557.95" y2="270.2" stroke="#333333" stroke-width="0.9"/>
<text x="557.95" y="276.20" font-size="6.6" text-anchor="middle" fill="#4D4D4D" >0.0</text>
<line x1="429.8" y1="142.20" x2="432" y2="142.20" stroke="#333333" stroke-width="0.9"/>
<text x="428.20" y="144.60" font-size="6.6" text-anchor="end" fill="#4D4D4D" >0.0</text>
<line x1="615.23" y1="267.5" x2="615.23" y2="270.2" stroke="#333333" stroke-width="0.9"/>
<text x="615.23" y="276.20" font-size="6.6" text-anchor="middle" fill="#4D4D4D" >0.5</text>
<line x1="429.8" y1="85.20" x2="432" y2="85.20" stroke="#333333" stroke-width="0.9"/>
<text x="428.20" y="87.60" font-size="6.6" text-anchor="end" fill="#4D4D4D" >0.5</text>
<line x1="672.50" y1="267.5" x2="672.50" y2="270.2" stroke="#333333" stroke-width="0.9"/>
<text x="672.50" y="276.20" font-size="6.6" text-anchor="middle" fill="#4D4D4D" > .0</text><path d="M763 0H583V1147Q518 1085 412.5 1023Q307 961 223 930V1104Q374 1175 487 1276Q600 1377 647 1472H763Z" transform="translate(667.913,276.20) scale(0.003223,-0.003223)" fill="#4D4D4D"/>
<line x1="429.8" y1="28.20" x2="432" y2="28.20" stroke="#333333" stroke-width="0.9"/>
<text x="428.20" y="30.60" font-size="6.6" text-anchor="end" fill="#4D4D4D" > .0</text><path d="M763 0H583V1147Q518 1085 412.5 1023Q307 961 223 930V1104Q374 1175 487 1276Q600 1377 647 1472H763Z" transform="translate(419.025,30.60) scale(0.003223,-0.003223)" fill="#4D4D4D"/>
<text x="557.70" y="286.30" font-size="8.05" text-anchor="middle" fill="#111" stroke="#111" stroke-width="0.15">PC (50. %)</text><path d="M763 0H583V1147Q518 1085 412.5 1023Q307 961 223 930V1104Q374 1175 487 1276Q600 1377 647 1472H763Z" transform="translate(546.959,286.30) scale(0.003931,-0.003931)" fill="#111" stroke="#111" stroke-width="0.15" vector-effect="non-scaling-stroke"/><path d="M763 0H583V1147Q518 1085 412.5 1023Q307 961 223 930V1104Q374 1175 487 1276Q600 1377 647 1472H763Z" transform="translate(565.308,286.30) scale(0.003931,-0.003931)" fill="#111" stroke="#111" stroke-width="0.15" vector-effect="non-scaling-stroke"/>
<g transform="translate(413.3,142) rotate(-90)"><text x="0.00" y="0.00" font-size="8.05" text-anchor="middle" fill="#111" stroke="#111" stroke-width="0.15">PC2( 8.5%)</text><path d="M763 0H583V1147Q518 1085 412.5 1023Q307 961 223 930V1104Q374 1175 487 1276Q600 1377 647 1472H763Z" transform="translate(-3.583,0.00) scale(0.003931,-0.003931)" fill="#111" stroke="#111" stroke-width="0.15" vector-effect="non-scaling-stroke"/></g>
<polyline points="653.2,139.2 664.5,139.2" fill="none" stroke="#777" stroke-width="0.6"/>
<polyline points="644.4,157.3 657.6,144.4" fill="none" stroke="#777" stroke-width="0.6"/>
<text x="462.60" y="88.00" font-size="8.2" text-anchor="start" fill="#111" stroke="#111" stroke-width="0.2">Inquisitive</text>
<text x="504.80" y="96.70" font-size="8.2" text-anchor="start" fill="#111" stroke="#111" stroke-width="0.2">Fearful</text>
<text x="479.90" y="107.60" font-size="8.2" text-anchor="start" fill="#111" stroke="#111" stroke-width="0.2">Uneasy</text>
<text x="602.40" y="64.80" font-size="8.2" text-anchor="start" fill="#111" stroke="#111" stroke-width="0.2">Agitated</text>
<text x="584.40" y="83.90" font-size="8.2" text-anchor="start" fill="#111" stroke="#111" stroke-width="0.2">Irritable</text>
<text x="645.10" y="84.00" font-size="8.2" text-anchor="start" fill="#111" stroke="#111" stroke-width="0.2">Active</text>
<text x="642.10" y="118.80" font-size="8.2" text-anchor="start" fill="#111" stroke="#111" stroke-width="0.2">Content</text>
<text x="655.60" y="129.70" font-size="8.2" text-anchor="start" fill="#111" stroke="#111" stroke-width="0.2">Playful</text>
<text x="656.80" y="136.90" font-size="8.2" text-anchor="start" fill="#111" stroke="#111" stroke-width="0.2">Happy</text>
<text x="619.80" y="143.20" font-size="8.2" text-anchor="start" fill="#111" stroke="#111" stroke-width="0.2">Sociable</text>
<text x="575.40" y="153.80" font-size="8.2" text-anchor="start" fill="#111" stroke="#111" stroke-width="0.2">Positively occupied</text>
<text x="651.80" y="153.80" font-size="8.2" text-anchor="start" fill="#111" stroke="#111" stroke-width="0.2">Friendly</text>
<text x="630.60" y="165.50" font-size="8.2" text-anchor="start" fill="#111" stroke="#111" stroke-width="0.2">Lively</text>
<text x="499.70" y="219.10" font-size="8.2" text-anchor="start" fill="#111" stroke="#111" stroke-width="0.2">Indifferent</text>
<text x="591.90" y="218.00" font-size="8.2" text-anchor="start" fill="#111" stroke="#111" stroke-width="0.2">Calm</text>
<text x="600.70" y="238.10" font-size="8.2" text-anchor="start" fill="#111" stroke="#111" stroke-width="0.2">Relaxed</text>
</svg>
</body></html>
